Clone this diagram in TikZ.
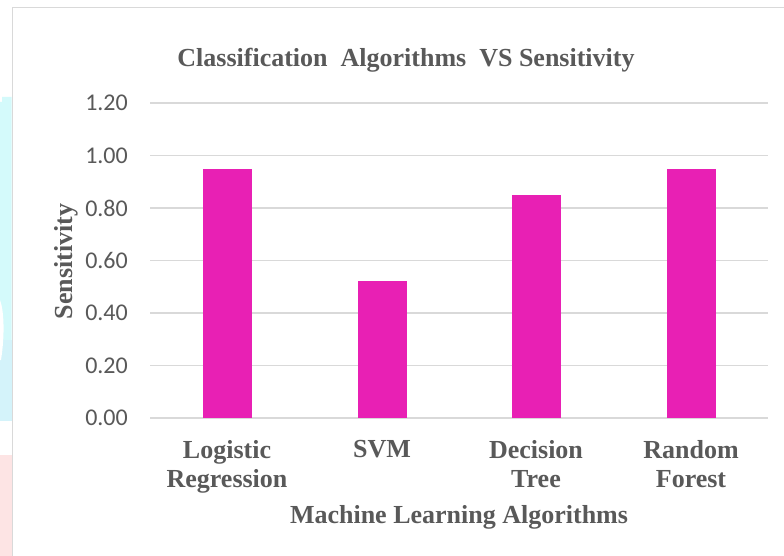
\documentclass[tikz,border=0pt]{standalone}
\usepackage{fontspec}
\setmainfont{Liberation Serif}
\newfontfamily\tickfont{Carlito}

\definecolor{barpink}{HTML}{E820B4}
\definecolor{gridgray}{HTML}{D9D9D9}
\definecolor{framegray}{HTML}{D9D9D9}
\definecolor{textgray}{HTML}{595959}
\definecolor{cyanbg}{HTML}{D4FAFB}
\definecolor{cyanbglow}{HTML}{D4F3FA}
\definecolor{pinkbg}{HTML}{FDE4E4}

\tikzset{
  gridline/.style={gridgray, line width=1.6pt},
  ticklabel/.style={anchor=east, inner sep=0pt, text=textgray,
    font=\tickfont\fontsize{24}{28}\selectfont},
  bar/.style={fill=barpink, draw=none},
  catlabel/.style={anchor=north, inner sep=0pt, align=center, text=textgray,
    font=\bfseries\fontsize{26}{29}\selectfont},
  axistitle/.style={anchor=base, inner sep=0pt, text=textgray,
    font=\bfseries\fontsize{26}{29}\selectfont},
}

\begin{document}
\begin{tikzpicture}[x=1pt, y=-1pt]
  \useasboundingbox (0,0) rectangle (784,556);
  \fill[white] (0,0) rectangle (784,556);

  % background strips left of the chart frame
  \fill[cyanbg] (0,102) -- (2,102) -- (2,97) -- (11.5,97) -- (11.5,340) -- (0,340) -- cycle;
  \fill[cyanbglow] (0,340) rectangle (11.5,421);
  \fill[white] (0,300) .. controls (4,310) and (5,335) .. (1,360) -- (0,360) -- cycle;
  \fill[pinkbg] (0,455) rectangle (11.5,556);

  % chart frame (continues past the right and bottom edges)
  \draw[framegray, line width=1.8pt] (12.5,570) -- (12.5,7.5) -- (800,7.5);

  % title
  \node[axistitle] (title) at (406,67) {Classification\ \ Algorithms\ \ VS Sensitivity};

  % horizontal grid lines and value labels: y = 418 - v*262.5
  \foreach \v/\lab/\nm in {0/0.00/t0, 0.2/0.20/t1, 0.4/0.40/t2, 0.6/0.60/t3,
                          0.8/0.80/t4, 1.0/1.00/t5, 1.2/1.20/t6}{
    \coordinate (g\nm a) at (150,{418-\v*262.5});
    \coordinate (g\nm b) at (768,{418-\v*262.5});
    \draw[gridline] (g\nm a) -- (g\nm b);
    \node[ticklabel] (\nm) at (128,{418-\v*262.5}) {\lab};
  }

  % bars
  \foreach \cx/\val/\nm in {227/0.95/lr, 382/0.52/svm, 536/0.85/dt, 691/0.95/rf}{
    \fill[bar] (\cx-24.5,418) rectangle (\cx+24.5,{418-\val*262.5});
  }

  % category labels
  \node[catlabel] (clr) at (227,440) {Logistic\\Regression};
  \node[catlabel] (csvm) at (382,440) {SVM};
  \node[catlabel] (cdt) at (536,440) {Decision\\Tree};
  \node[catlabel] (crf) at (691,440) {Random\\Forest};

  % axis titles
  \node[axistitle] (xtitle) at (459,523) {Machine Learning Algorithms};
  \node[axistitle, rotate=90] (ytitle) at (72.5,261.5) {Sensitivity};
\end{tikzpicture}
\end{document}
